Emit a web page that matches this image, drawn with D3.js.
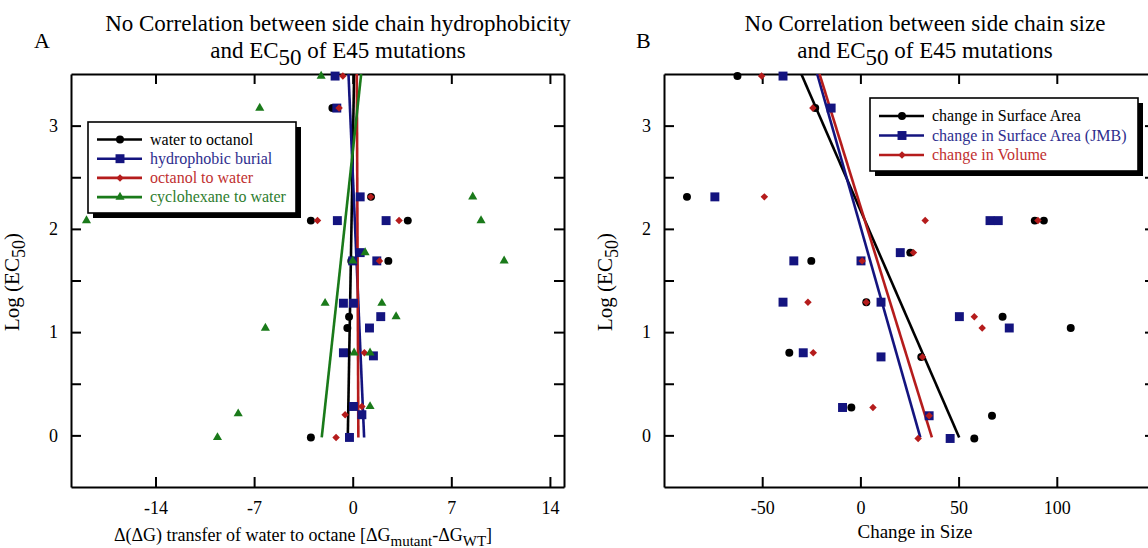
<!DOCTYPE html>
<html>
<head>
<meta charset="utf-8">
<script src="https://cdn.jsdelivr.net/npm/d3@7"></script>
<style>
  body { margin: 0; background: #fff; }
  text { font-family: "Liberation Serif", "Times New Roman", serif; }
</style>
</head>
<body>
<script>
// ---- panel A data: dG transfer vs log EC50 ----
var aSeries = ["water to octanol", "hydrophobic burial", "octanol to water", "cyclohexane to water"];
var aWaterOctX = [-1.44, 1.3, -2.97, 3.91, 2.53, -0.1, -0.26, -0.38, -0.42, -0.05, -2.97];
var aWaterOctY = [3.17, 2.31, 2.08, 2.08, 1.69, 1.69, 1.15, 1.04, 0.8, 0.28, -0.02];
var aBurialX = [-1.25, -1.13, 0.53, -1.09, 2.37, 0.53, 0.0, 1.71, -0.66, 0.05, 1.99, 1.19, -0.66, 1.47, 0.05, 0.65, -0.23];
var aBurialY = [3.48, 3.17, 2.31, 2.08, 2.08, 1.77, 1.69, 1.69, 1.28, 1.28, 1.15, 1.04, 0.8, 0.77, 0.28, 0.2, -0.02];
var aOctWatX = [-0.7, -0.97, 1.28, -2.5, 3.29, 1.9, 0.83, 0.65, -0.54, -1.18];
var aOctWatY = [3.48, 3.17, 2.31, 2.08, 2.08, 1.69, 0.8, 0.28, 0.2, -0.02];
var aCycloX = [-2.24, -6.6, 8.52, -18.9, 9.11, 0.88, 0.0, 10.75, -1.96, 2.07, 3.08, -6.2, 0.1, 1.23, 1.23, -8.13, -9.6];
var aCycloY = [3.48, 3.17, 2.31, 2.08, 2.08, 1.77, 1.69, 1.69, 1.28, 1.28, 1.15, 1.04, 0.8, 0.8, 0.28, 0.21, -0.02];
// fit lines: x at log EC50 = 3.5 and at -0.02
var aFitTopX = [0.1, -0.3, 0.29, 0.6];
var aFitBotX = [-0.35, 0.81, 0.4, -2.2];
var aXTicks = [-14, -7, 0, 7, 14];

// ---- panel B data: size change vs log EC50 ----
var bSeries = ["change in Surface Area", "change in Surface Area (JMB)", "change in Volume"];
var bAreaX = [-62.6, -23, -88.3, 88.8, 93.4, 25.4, -25, 3, 72.4, 107.1, -36.2, 31, -4.6, 67, 58];
var bAreaY = [3.48, 3.17, 2.31, 2.08, 2.08, 1.77, 1.69, 1.29, 1.15, 1.04, 0.8, 0.76, 0.27, 0.19, -0.03];
var bJmbX = [-39.4, -14.9, -74.1, 66, 70.2, 20.3, -33.9, 0.3, -39.4, 10.5, 50.4, 75.8, -29.1, 10.5, -9.1, 35, 45.7];
var bJmbY = [3.48, 3.17, 2.31, 2.08, 2.08, 1.77, 1.69, 1.69, 1.29, 1.29, 1.15, 1.04, 0.8, 0.76, 0.27, 0.19, -0.03];
var bVolX = [-50.3, -24.2, -48.9, 33, 90.4, 27, 0.9, -26.7, 3, 58, 62, -24, 31.6, 6.4, 35, 29.4];
var bVolY = [3.48, 3.17, 2.31, 2.08, 2.08, 1.77, 1.69, 1.29, 1.29, 1.15, 1.04, 0.8, 0.76, 0.27, 0.19, -0.03];
var bFitTopX = [-30.1, -22, -20.8];
var bFitBotX = [50.3, 30.5, 36.4];
var bXTicks = [-50, 0, 50, 100];

var yTicks = [0, 0.5, 1, 1.5, 2, 2.5, 3];
var fitYs = [3.5, -0.02];

var colors = ["#000000", "#14147f", "#b51c1c", "#1a7a1a"];
var textColors = ["#000000", "#2e2e8e", "#bf3030", "#2e7d2e"];
var shapes = ["circle", "square", "diamond", "triangle"];

var svg = d3.select("body").append("svg").attr("width", 1148).attr("height", 548);

// draws one marker of the given kind
function marker(g, kind, x, y, col) {
    var sym;
    if (kind == "circle") sym = d3.symbol().type(d3.symbolCircle).size(50);
    if (kind == "square") sym = d3.symbol().type(d3.symbolSquare).size(80);
    if (kind == "diamond") sym = d3.symbol().type(d3.symbolSquare).size(28);
    if (kind == "triangle") sym = d3.symbol().type(d3.symbolTriangle).size(36);
    g.append("path").attr("d", sym())
        .attr("transform", `translate(${x},${y})` + (kind == "diamond" ? " rotate(45)" : ""))
        .attr("fill", col);
}

function panel(opt) {
    var g = svg.append("g");
    var x = d3.scaleLinear().domain(opt.xDomain).range([opt.left, opt.right]);
    var y = d3.scaleLinear().domain([-0.5, 3.5]).range([487, 74]);

    // clip for fit lines
    var clipId = "clip" + opt.letter;
    svg.append("clipPath").attr("id", clipId).append("rect")
        .attr("x", opt.left).attr("y", 74).attr("width", opt.right - opt.left).attr("height", 413);

    // axes with inward ticks
    var fmtY = d => (d % 1 == 0 ? String(d) : "");
    g.append("g").attr("transform", `translate(0,487)`)
        .call(d3.axisBottom(x).tickValues(opt.xTicks).tickSizeInner(-10).tickSizeOuter(0).tickPadding(14).tickFormat(d => String(d)));
    g.append("g").attr("transform", `translate(0,74)`)
        .call(d3.axisTop(x).tickValues(opt.xTicks).tickSizeInner(-10).tickSizeOuter(0).tickFormat(""));
    g.append("g").attr("transform", `translate(${opt.left},0)`)
        .call(d3.axisLeft(y).tickValues(yTicks).tickSizeInner(-10).tickSizeOuter(0).tickPadding(13).tickFormat(fmtY));
    g.append("g").attr("transform", `translate(${opt.right},0)`)
        .call(d3.axisRight(y).tickValues(yTicks).tickSizeInner(-10).tickSizeOuter(0).tickFormat(""));
    g.selectAll(".domain").attr("stroke-width", 2).attr("stroke", "#000");
    g.selectAll(".tick line").attr("stroke-width", 2).attr("stroke", "#000");
    g.selectAll(".tick text").attr("font-size", 18).attr("fill", "#000");

    // fit lines
    var lg = g.append("g").attr("clip-path", `url(#${clipId})`);
    opt.fitTop.forEach((xt, i) => {
        lg.append("line")
            .attr("x1", x(xt)).attr("y1", y(fitYs[0]))
            .attr("x2", x(opt.fitBot[i])).attr("y2", y(fitYs[1]))
            .attr("stroke", colors[i]).attr("stroke-width", 2.6);
    });

    // points
    opt.xs.forEach((xs, i) => {
        var pg = g.append("g");
        xs.forEach((v, j) => marker(pg, shapes[i], x(v), y(opt.ys[i][j]), colors[i]));
    });

    // legend box with drop shadow
    var L = opt.legend;
    g.append("rect").attr("x", L.x + 5).attr("y", L.y + 5).attr("width", L.w).attr("height", L.h).attr("fill", "#000");
    g.append("rect").attr("x", L.x).attr("y", L.y).attr("width", L.w).attr("height", L.h)
        .attr("fill", "#fff").attr("stroke", "#000").attr("stroke-width", 1.6);
    opt.names.forEach((name, i) => {
        var ly = L.y + L.first + i * L.step;
        g.append("line").attr("x1", L.x + 9).attr("x2", L.x + 54).attr("y1", ly).attr("y2", ly)
            .attr("stroke", colors[i]).attr("stroke-width", 2.6);
        marker(g, shapes[i], L.x + 32, ly, colors[i]);
        g.append("text").attr("x", L.x + 62).attr("y", ly + 5).attr("font-size", 16)
            .attr("fill", textColors[i]).text(name);
    });

    // titles
    var cx = opt.titleX;
    g.append("text").attr("x", cx).attr("y", 31).attr("text-anchor", "middle").attr("font-size", 23)
        .text(opt.title1);
    var t2 = g.append("text").attr("x", cx).attr("y", 58).attr("text-anchor", "middle").attr("font-size", 23);
    t2.append("tspan").text("and EC");
    t2.append("tspan").attr("dy", 7).text("50");
    t2.append("tspan").attr("dy", -7).text(" of E45 mutations");
    g.append("text").attr("x", opt.letterX).attr("y", 48).attr("font-size", 22).text(opt.letter);

    // y label
    var yl = g.append("text").attr("transform", `translate(${opt.left - 52},282) rotate(-90)`)
        .attr("text-anchor", "middle").attr("font-size", 21);
    yl.append("tspan").text("Log (EC");
    yl.append("tspan").attr("dy", 6).attr("font-size", 18).text("50");
    yl.append("tspan").attr("dy", -6).text(")");

    return { g: g, x: x };
}

var A = panel({
    letter: "A", letterX: 34, left: 71, right: 564, xDomain: [-20, 15], xTicks: aXTicks,
    xs: [aWaterOctX, aBurialX, aOctWatX, aCycloX], ys: [aWaterOctY, aBurialY, aOctWatY, aCycloY],
    fitTop: aFitTopX, fitBot: aFitBotX, names: aSeries,
    legend: { x: 88, y: 122, w: 208, h: 91, first: 17.5, step: 19.2 },
    title1: "No Correlation between side chain hydrophobicity", titleX: 338
});
var B = panel({
    letter: "B", letterX: 636, left: 664, right: 1155, xDomain: [-100, 150], xTicks: bXTicks,
    xs: [bAreaX, bJmbX, bVolX], ys: [bAreaY, bJmbY, bVolY],
    fitTop: bFitTopX, fitBot: bFitBotX, names: bSeries,
    legend: { x: 870, y: 98, w: 268, h: 73, first: 18, step: 19.5 },
    title1: "No Correlation between side chain size", titleX: 925
});

// x labels
var xl = svg.append("text").attr("x", 303).attr("y", 541).attr("text-anchor", "middle").attr("font-size", 18);
xl.append("tspan").text("\u0394(\u0394G) transfer of water to octane [\u0394G");
xl.append("tspan").attr("dy", 5).attr("font-size", 15).text("mutant");
xl.append("tspan").attr("dy", -5).text("-\u0394G");
xl.append("tspan").attr("dy", 5).attr("font-size", 15).text("WT");
xl.append("tspan").attr("dy", -5).text("]");

svg.append("text").attr("x", 915).attr("y", 538).attr("text-anchor", "middle").attr("font-size", 19)
    .text("Change in Size");
</script>
</body>
</html>
